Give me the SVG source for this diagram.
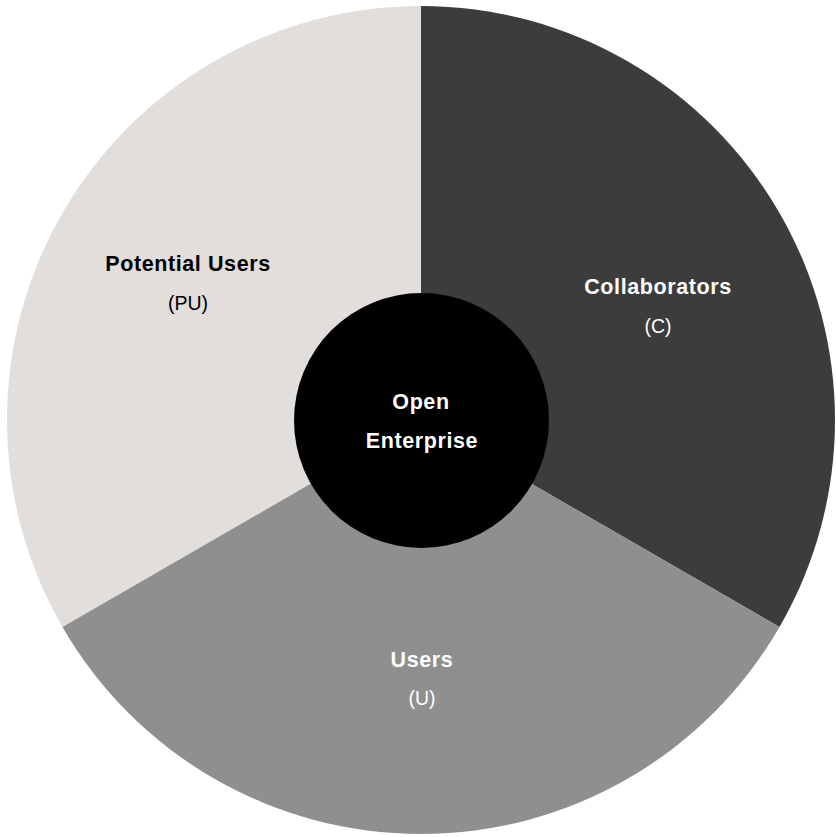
<svg xmlns="http://www.w3.org/2000/svg" width="836" height="837" viewBox="0 0 836 837">
<style>
.t{font-family:"Liberation Sans",Arial,Helvetica,sans-serif;text-anchor:middle}
.b{font-weight:bold;font-size:21.5px;letter-spacing:0.6px}
.r{font-size:19.5px}
.k{fill:#000}
.w{fill:#fff}
</style>
<rect width="836" height="837" fill="#fff"/>
<g id="pu">
<path d="M421,420 L421,6 A414,414 0 0 0 62.47,627 Z" fill="#E1DEDB"/>
<text class="t b k" x="188" y="271">Potential Users</text>
<text class="t r k" x="188" y="310">(PU)</text>
</g>
<g id="c">
<path d="M421,420 L421,6 A414,414 0 0 1 779.53,627 Z" fill="#3C3C3C"/>
<text class="t b w" x="658" y="294">Collaborators</text>
<text class="t r w" x="658" y="333">(C)</text>
</g>
<g id="u">
<path d="M421,420 L779.53,627 A414,414 0 0 1 62.47,627 Z" fill="#8F8F8F"/>
<text class="t b w" x="422" y="667">Users</text>
<text class="t r w" x="422" y="705">(U)</text>
</g>
<g id="oe">
<circle cx="421.5" cy="420.5" r="127.5" fill="#000"/>
<text class="t b w" x="421" y="409">Open</text>
<text class="t b w" x="422" y="448">Enterprise</text>
</g>
<g id="connectors"/>
</svg>
